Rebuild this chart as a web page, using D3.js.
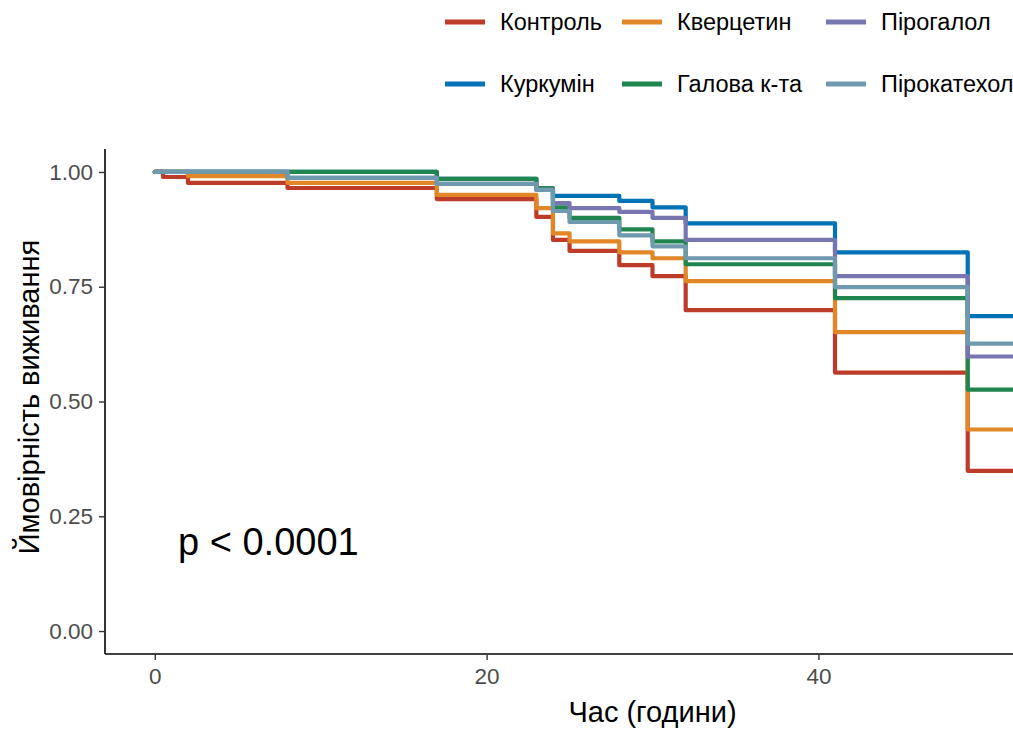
<!DOCTYPE html>
<html>
<head>
<meta charset="utf-8">
<script src="https://cdn.jsdelivr.net/npm/d3@7/dist/d3.min.js"></script>
<style>
  html, body { margin: 0; padding: 0; background: #fff; }
  svg { display: block; font-family: "Liberation Sans", Arial, sans-serif; }
</style>
</head>
<body>
<svg id="chart" width="1013" height="729"></svg>
<script>
// Kaplan–Meier step curves: survival value holds from each time until the next
const times = [0, 0.5, 2, 8, 17, 23, 24, 25, 28, 30, 32, 41, 49];
const endTime = 60;

const groups = ["Контроль", "Куркумін", "Кверцетин", "Галова к-та", "Пірогалол", "Пірокатехол"];
const control    = [1, 0.989, 0.976, 0.965, 0.941, 0.902, 0.852, 0.828, 0.797, 0.773, 0.699, 0.563, 0.349];
const curcumin   = [1, 1, 1, 1, 0.985, 0.961, 0.948, 0.948, 0.937, 0.923, 0.888, 0.825, 0.686];
const quercetin  = [1, 1, 0.991, 0.976, 0.950, 0.921, 0.866, 0.849, 0.825, 0.812, 0.762, 0.651, 0.439];
const gallicAcid = [1, 1, 1, 1, 0.985, 0.965, 0.923, 0.900, 0.875, 0.849, 0.799, 0.725, 0.526];
const pyrogallol = [1, 1, 1, 0.987, 0.974, 0.961, 0.932, 0.921, 0.913, 0.900, 0.852, 0.773, 0.598];
const catechol   = [1, 1, 1, 0.987, 0.974, 0.961, 0.915, 0.891, 0.862, 0.838, 0.812, 0.749, 0.626];
const seriesValues = [control, curcumin, quercetin, gallicAcid, pyrogallol, catechol];
const colors = ["#BC3C29", "#0072B5", "#E18727", "#20854E", "#7876B1", "#6F99AD"];

const xTicks = [0, 20, 40];
const yTicks = [0, 0.25, 0.5, 0.75, 1];
const pText = "p < 0.0001";

const svg = d3.select("#chart");

// panel geometry (the panel runs past the right edge of the page)
const panel = { left: 105, right: 1200, top: 149, bottom: 654 };
const x = d3.scaleLinear().domain([-3, 63]).range([panel.left, panel.right]);
const y = d3.scaleLinear().domain([-0.05, 1.05]).range([panel.bottom, panel.top]);

const line = d3.line()
  .x(d => x(d[0]))
  .y(d => y(d[1]))
  .curve(d3.curveStepAfter);

const plot = svg.append("g");
seriesValues.forEach((vals, i) => {
  const pts = times.map((t, j) => [t, vals[j]]);
  pts.push([endTime, vals[vals.length - 1]]);
  plot.append("path")
    .datum(pts)
    .attr("fill", "none")
    .attr("stroke", colors[i])
    .attr("stroke-width", 4.2)
    .attr("stroke-linejoin", "round")
    .attr("stroke-linecap", "round")
    .attr("d", line);
});

// axes
const yAxis = svg.append("g")
  .attr("transform", `translate(${panel.left},0)`)
  .call(d3.axisLeft(y).tickValues(yTicks).tickFormat(d3.format(".2f")).tickSize(6).tickPadding(6));
const xAxis = svg.append("g")
  .attr("transform", `translate(0,${panel.bottom})`)
  .call(d3.axisBottom(x).tickValues(xTicks).tickFormat(d3.format("d")).tickSize(6).tickPadding(8));

[yAxis, xAxis].forEach(a => {
  a.select(".domain").attr("stroke", "#000").attr("stroke-width", 1.6);
  a.selectAll(".tick line").attr("stroke", "#333").attr("stroke-width", 1.4);
  a.selectAll(".tick text")
    .attr("fill", "#4D4D4D")
    .style("font-size", "22.5px")
    .style("font-family", "'Liberation Sans', Arial, sans-serif");
});
yAxis.select(".domain").attr("d", `M0,${panel.top}V${panel.bottom}`);
xAxis.select(".domain").attr("d", `M${panel.left},0H${panel.right}`);

// axis titles
svg.append("text")
  .attr("x", (panel.left + panel.right) / 2)
  .attr("y", 722)
  .attr("text-anchor", "middle")
  .style("font-size", "29px")
  .attr("fill", "#000")
  .text("Час (години)");

svg.append("text")
  .attr("transform", `translate(39,397) rotate(-90)`)
  .attr("text-anchor", "middle")
  .style("font-size", "29px")
  .attr("fill", "#000")
  .text("Ймовірність виживання");

// log-rank p-value
svg.append("text")
  .attr("x", x(1.4))
  .attr("y", y(0.165))
  .style("font-size", "38px")
  .attr("fill", "#000")
  .text(pText);

// legend, two rows filled column by column
const legendCols = [445, 622, 826];
const legendRows = [22, 84];
groups.forEach((g, i) => {
  const col = Math.floor(i / 2), row = i % 2;
  const lx = legendCols[col], ly = legendRows[row];
  svg.append("line")
    .attr("x1", lx).attr("x2", lx + 40)
    .attr("y1", ly).attr("y2", ly)
    .attr("stroke", colors[i])
    .attr("stroke-width", 5);
  svg.append("text")
    .attr("x", lx + 55)
    .attr("y", ly)
    .attr("dy", "0.36em")
    .style("font-size", "23.5px")
    .attr("fill", "#000")
    .text(g);
});
</script>
</body>
</html>
